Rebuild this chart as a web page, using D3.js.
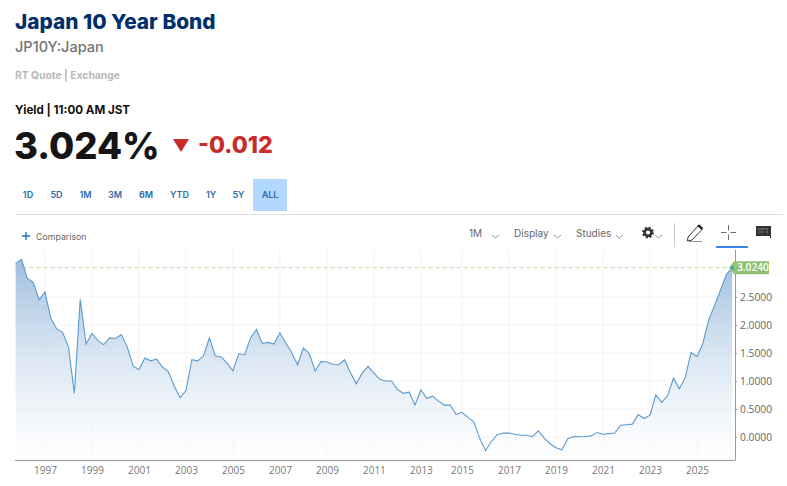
<!DOCTYPE html>
<html>
<head>
<meta charset="utf-8">
<title>Japan 10 Year Bond</title>
<script src="https://cdnjs.cloudflare.com/ajax/libs/d3/7.8.5/d3.min.js"></script>
<style>
  html, body { margin: 0; padding: 0; background: #fff; }
  svg { display: block; }
  text { font-family: Inter, "Open Sans", sans-serif; }
</style>
</head>
<body>
<svg id="chart" width="787" height="486"></svg>
<script>
// quarterly closes
var yields = [
  3.10, 3.17, 2.83, 2.76, 2.45, 2.59, 2.12, 1.93, 1.87, 1.61,
  0.78, 2.46, 1.66, 1.85, 1.72, 1.65, 1.77, 1.76, 1.83, 1.61,
  1.27, 1.20, 1.41, 1.36, 1.39, 1.25, 1.17, 0.91, 0.70, 0.83,
  1.38, 1.36, 1.45, 1.77, 1.45, 1.43, 1.32, 1.18, 1.49, 1.47,
  1.77, 1.92, 1.67, 1.69, 1.66, 1.86, 1.68, 1.51, 1.29, 1.59,
  1.49, 1.18, 1.35, 1.34, 1.30, 1.29, 1.38, 1.15, 0.95, 1.14,
  1.26, 1.14, 1.03, 1.00, 1.00, 0.85, 0.78, 0.80, 0.57, 0.84,
  0.69, 0.73, 0.64, 0.57, 0.57, 0.40, 0.44, 0.35, 0.27, -0.02,
  -0.24, -0.08, 0.04, 0.07, 0.07, 0.05, 0.03, 0.03, 0.005, 0.11,
  -0.02, -0.12, -0.19, -0.23, -0.03, 0.01, 0.005, 0.01, 0.02, 0.08,
  0.05, 0.06, 0.07, 0.21, 0.22, 0.23, 0.40, 0.33, 0.39, 0.75,
  0.62, 0.74, 1.05, 0.86, 1.06, 1.51, 1.44, 1.67, 2.09, 2.35,
  2.62, 2.90, 3.024
];
var yearLabels = ["1997","1999","2001","2003","2005","2007","2009","2011","2013","2015","2017","2019","2021","2023","2025"];
var yearIndex  = [5,13,21,29,37,45,53,61,69,76,84,92,100,108,116];
var yTicks = [0, 0.5, 1, 1.5, 2, 2.5];
var lastValue = 3.024;
var rangeButtons = ["1D","5D","1M","3M","6M","YTD","1Y","5Y","ALL"];
var rangeX = [28,56.5,85.5,115,146,179.5,211,238.5,270];

var svg = d3.select("#chart");

var plotLeft = 15.6, plotRight = 735, plotTop = 250, plotBottom = 460;
var x = d3.scaleLinear().domain([0, yields.length - 1]).range([plotLeft, 732.2]);
var y = d3.scaleLinear().domain([0, 2.5]).range([437, 297]);

function label(tx, ty, str, size, weight, fill, anchor) {
  return svg.append("text").attr("x", tx).attr("y", ty).text(str)
    .attr("font-size", size).attr("font-weight", weight).attr("fill", fill)
    .attr("text-anchor", anchor || "start");
}

// header
label(15, 29, "Japan 10 Year Bond", 20.8, 800, "#002f6c");
label(15, 52, "JP10Y:Japan", 14.5, 500, "#747474");
label(15, 79, "RT Quote | Exchange", 10.3, 700, "#b9b9b9");
label(15, 114, "Yield | 11:00 AM JST", 11.6, 700, "#111");
label(14, 159, "3.024%", 36.5, 800, "#151515");
svg.append("path").attr("d", "M173 139H189L181 152Z").attr("fill", "#c92a2a");
label(198, 153, "-0.012", 23.2, 800, "#c92a2a");

// range buttons
svg.append("rect").attr("x", 253).attr("y", 179).attr("width", 34).attr("height", 32).attr("fill", "#b3d8ff");
rangeButtons.forEach(function (b, i) {
  label(rangeX[i], 198, b, 9, 600, "#2b6ca8", "middle");
});
svg.append("line").attr("x1", 15).attr("x2", 783).attr("y1", 214.5).attr("y2", 214.5).attr("stroke", "#dedede");

// toolbar
svg.append("path").attr("d", "M26 232V240M22 236H30").attr("stroke", "#1f6fc0").attr("stroke-width", 1.4);
label(36, 240, "Comparison", 8.8, 400, "#666");
label(469, 237, "1M", 10, 400, "#666");
label(514, 237, "Display", 10, 400, "#666");
label(576, 237, "Studies", 10, 400, "#666");
[[492, 235], [554, 235], [616, 235], [655, 235]].forEach(function (p) {
  svg.append("path").attr("d", "M" + p[0] + " " + p[1] + "l3.5 3l3.5 -3").attr("fill", "none").attr("stroke", "#777").attr("stroke-width", 0.8);
});
// gear
svg.append("circle").attr("cx", 648).attr("cy", 232.5).attr("r", 3.4).attr("fill", "none").attr("stroke", "#333").attr("stroke-width", 2.6);
svg.append("circle").attr("cx", 648).attr("cy", 232.5).attr("r", 4.9).attr("fill", "none").attr("stroke", "#333").attr("stroke-width", 2).attr("stroke-dasharray", "2 1.85");
svg.append("line").attr("x1", 674.5).attr("x2", 674.5).attr("y1", 223).attr("y2", 247).attr("stroke", "#ccc");
// pencil
svg.append("path").attr("d", "M688 237L698 226L702 229.5L692 240L687.5 241Z").attr("fill", "none").attr("stroke", "#333");
svg.append("path").attr("d", "M697 225.5L699.5 224.5L703 228L702 230Z").attr("fill", "#222");
svg.append("path").attr("d", "M689 241.5H702").attr("fill", "none").attr("stroke", "#999");
// crosshair
svg.append("path").attr("d", "M728.5 225V230.5M728.5 234.5V240M721 232.5H726.5M730.5 232.5H736").attr("fill", "none").attr("stroke", "#444").attr("stroke-width", 0.8);
svg.append("rect").attr("x", 716).attr("y", 246).attr("width", 32).attr("height", 2).attr("fill", "#3b86e8");
// comment
svg.append("path").attr("d", "M756 226H771V238H770V236H756Z").attr("fill", "#333");
svg.append("path").attr("d", "M758 229H768M758 232H764M766 232H768").attr("stroke", "#999").attr("stroke-width", 0.8);

// grid
var defs = svg.append("defs");
var grad = defs.append("linearGradient").attr("id", "areaFill").attr("x1", 0).attr("x2", 0).attr("y1", 0).attr("y2", 1);
grad.append("stop").attr("offset", "0%").attr("stop-color", "#9fbfde");
grad.append("stop").attr("offset", "100%").attr("stop-color", "#ffffff").attr("stop-opacity", 0.5);

var grid = svg.append("g");
grid.selectAll("line.v").data(yearIndex).join("line").attr("class", "v")
  .attr("x1", function (d) { return x(d); }).attr("x2", function (d) { return x(d); })
  .attr("y1", plotTop).attr("y2", plotBottom).attr("stroke", "#f3f3f3");
grid.selectAll("line.h").data(yTicks).join("line").attr("class", "h")
  .attr("x1", plotLeft).attr("x2", plotRight)
  .attr("y1", function (d) { return y(d); }).attr("y2", function (d) { return y(d); }).attr("stroke", "#f3f3f3");

// dashed last value line sits behind the area
var ly = y(lastValue);
svg.append("line").attr("x1", plotLeft).attr("x2", plotRight).attr("y1", ly).attr("y2", ly)
  .attr("stroke", "#b7d8a8").attr("stroke-dasharray", "4 3");

// area + line
var area = d3.area().x(function (d, i) { return x(i); }).y0(plotBottom).y1(function (d) { return y(d); });
var line = d3.line().x(function (d, i) { return x(i); }).y(function (d) { return y(d); });
svg.append("path").datum(yields).attr("d", area).attr("fill", "url(#areaFill)");
svg.append("path").datum(yields).attr("d", line).attr("fill", "none").attr("stroke", "#5b9bcf").attr("stroke-width", 1.1);

// axes
var xAxis = d3.axisBottom(x).tickValues(yearIndex).tickSize(0).tickPadding(7)
  .tickFormat(function (d, i) { return yearLabels[i]; });
var gx = svg.append("g").attr("transform", "translate(0," + plotBottom + ")").call(xAxis);
gx.select(".domain").attr("stroke", "#999").attr("d", "M15,0.5H" + plotRight);
gx.selectAll("text").attr("font-size", 10).attr("fill", "#777").style("font-family", "'Open Sans'");

var yAxis = d3.axisRight(y).tickValues(yTicks).tickSize(2).tickPadding(3).tickFormat(d3.format(".4f"));
var gy = svg.append("g").attr("transform", "translate(" + plotRight + ",0)").call(yAxis);
gy.select(".domain").attr("stroke", "#999").attr("d", "M0.5," + plotTop + "V" + (plotBottom + 0.5));
gy.selectAll(".tick line").attr("stroke", "#999");
gy.selectAll("text").attr("font-size", 10.3).attr("fill", "#666").style("font-family", "'Open Sans'");

// last value marker
svg.append("path").attr("d", "M729 " + ly + "L734 " + (ly - 6.5) + "H769V" + (ly + 6.5) + "H734Z").attr("fill", "#8fc273");
svg.append("circle").attr("cx", x(yields.length - 1)).attr("cy", ly).attr("r", 1.5).attr("fill", "#2b8fd0");
label(737, ly + 3.6, d3.format(".4f")(lastValue), 10.2, 600, "#fff").style("font-family", "'Open Sans'");
</script>
</body>
</html>
